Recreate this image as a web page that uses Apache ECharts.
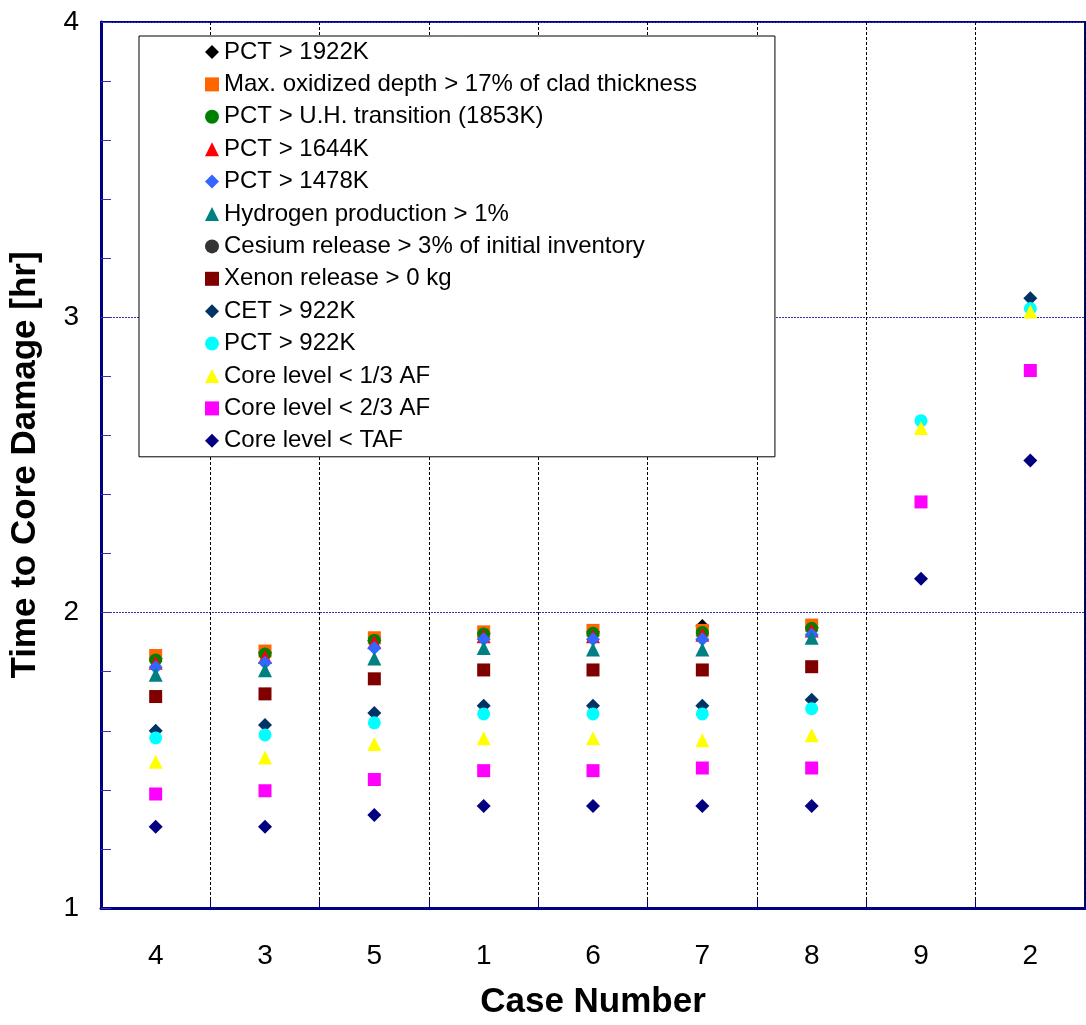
<!DOCTYPE html>
<html>
<head>
<meta charset="utf-8">
<script src="https://cdn.jsdelivr.net/npm/echarts@6/dist/echarts.min.js"></script>
<style>
html,body{margin:0;padding:0;background:#fff;}
#chart{width:1086px;height:1025px;}
</style>
</head>
<body>
<div id="chart"></div>
<script>
const categories = ['4','3','5','1','6','7','8','9','2'];

const pct1922   = [1.845, 1.865, 1.905, 1.930, 1.935, 1.955, 1.950, null, null];
const maxOxid   = [1.855, 1.870, 1.915, 1.935, 1.940, 1.940, 1.958, null, null];
const pctUH     = [1.840, 1.860, 1.907, 1.928, 1.930, 1.933, 1.947, null, null];
const pct1644   = [1.830, 1.850, 1.900, 1.920, 1.920, 1.925, 1.940, null, null];
const pct1478   = [1.815, 1.830, 1.880, 1.910, 1.910, 1.910, 1.925, null, null];
const hydrogen  = [1.790, 1.805, 1.845, 1.880, 1.875, 1.875, 1.915, null, null];
const cesium    = [null, null, null, null, null, null, null, null, null];
const xenon     = [1.716, 1.725, 1.776, 1.806, 1.806, 1.806, 1.817, null, null];
const cet922    = [1.600, 1.620, 1.660, 1.685, 1.685, 1.685, 1.705, null, 3.065];
const pct922    = [1.576, 1.586, 1.627, 1.657, 1.657, 1.657, 1.675, 2.650, 3.030];
const core13    = [1.495, 1.510, 1.555, 1.575, 1.575, 1.568, 1.585, 2.625, 3.020];
const core23    = [1.386, 1.397, 1.435, 1.465, 1.465, 1.474, 1.474, 2.375, 2.820];
const coreTAF   = [1.275, 1.275, 1.315, 1.345, 1.345, 1.345, 1.345, 2.115, 2.515];

const seriesDefs = [
  {name:'PCT > 1922K', data:pct1922, symbol:'diamond', color:'#000000', size:14},
  {name:'Max. oxidized depth > 17% of clad thickness', data:maxOxid, symbol:'rect', color:'#FF6600', size:13},
  {name:'PCT > U.H. transition (1853K)', data:pctUH, symbol:'circle', color:'#008000', size:13},
  {name:'PCT > 1644K', data:pct1644, symbol:'triangle', color:'#FF0000', size:14},
  {name:'PCT > 1478K', data:pct1478, symbol:'diamond', color:'#3366FF', size:14},
  {name:'Hydrogen production > 1%', data:hydrogen, symbol:'triangle', color:'#008080', size:14},
  {name:'Cesium release > 3% of initial inventory', data:cesium, symbol:'circle', color:'#333333', size:13},
  {name:'Xenon release > 0 kg', data:xenon, symbol:'rect', color:'#800000', size:13},
  {name:'CET > 922K', data:cet922, symbol:'diamond', color:'#003366', size:14},
  {name:'PCT > 922K', data:pct922, symbol:'circle', color:'#00FFFF', size:13},
  {name:'Core level < 1/3 AF', data:core13, symbol:'triangle', color:'#FFFF00', size:14},
  {name:'Core level < 2/3 AF', data:core23, symbol:'rect', color:'#FF00FF', size:13},
  {name:'Core level < TAF', data:coreTAF, symbol:'diamond', color:'#000080', size:14}
];

const FONT = '"Liberation Sans", Arial, Helvetica, sans-serif';
const chart = echarts.init(document.getElementById('chart'), null, {renderer:'canvas'});

chart.setOption({
  animation: false,
  backgroundColor: '#ffffff',
  grid: {
    left: 101, right: 1, top: 22, bottom: 117,
    show: true, borderColor: '#000080', borderWidth: 2, backgroundColor: 'transparent'
  },
  legend: {
    orient: 'vertical',
    left: 139, top: 36,
    padding: [4, 78, 4, 66],
    itemGap: 8.4,
    itemWidth: 14, itemHeight: 14,
    backgroundColor: '#ffffff',
    borderColor: '#000000', borderWidth: 1,
    textStyle: {fontFamily: FONT, fontSize: 24, color: '#000', lineHeight: 24},
    selectedMode: false,
    data: seriesDefs.map(s => s.name)
  },
  xAxis: {
    type: 'category',
    data: categories,
    boundaryGap: true,
    name: 'Case Number',
    nameLocation: 'middle',
    nameGap: 77,
    nameTextStyle: {fontFamily: FONT, fontSize: 35, fontWeight: 'bold', color: '#000', verticalAlign: 'top'},
    axisLine: {show: true, lineStyle: {color: '#000080', width: 3}},
    axisTick: {show: true, inside: true, length: 8, lineStyle: {color: '#000080', width: 1}},
    axisLabel: {fontFamily: FONT, fontSize: 28, color: '#000', margin: 34},
    splitLine: {show: true, lineStyle: {color: '#000000', type: [3, 2], width: 1}}
  },
  yAxis: {
    type: 'value',
    min: 1, max: 4, interval: 1,
    name: 'Time to Core Damage [hr]',
    nameLocation: 'middle',
    nameGap: 58,
    nameTextStyle: {fontFamily: FONT, fontSize: 35, fontWeight: 'bold', color: '#000'},
    axisLine: {show: true, lineStyle: {color: '#000080', width: 3}},
    axisTick: {show: true, inside: true, length: 10, lineStyle: {color: '#3333BB', width: 1}},
    minorTick: {show: true, splitNumber: 5, length: 10, lineStyle: {color: '#3333BB', width: 1}},
    axisLabel: {fontFamily: FONT, fontSize: 28, color: '#000', margin: 22},
    splitLine: {show: true, lineStyle: {color: '#3333AA', type: [2, 1], width: 1}}
  },
  series: seriesDefs.map(s => ({
    name: s.name,
    type: 'scatter',
    data: s.data,
    symbol: s.symbol,
    symbolSize: s.size,
    itemStyle: {color: s.color, opacity: 1},
    emphasis: {disabled: true}
  }))
});
</script>
</body>
</html>
